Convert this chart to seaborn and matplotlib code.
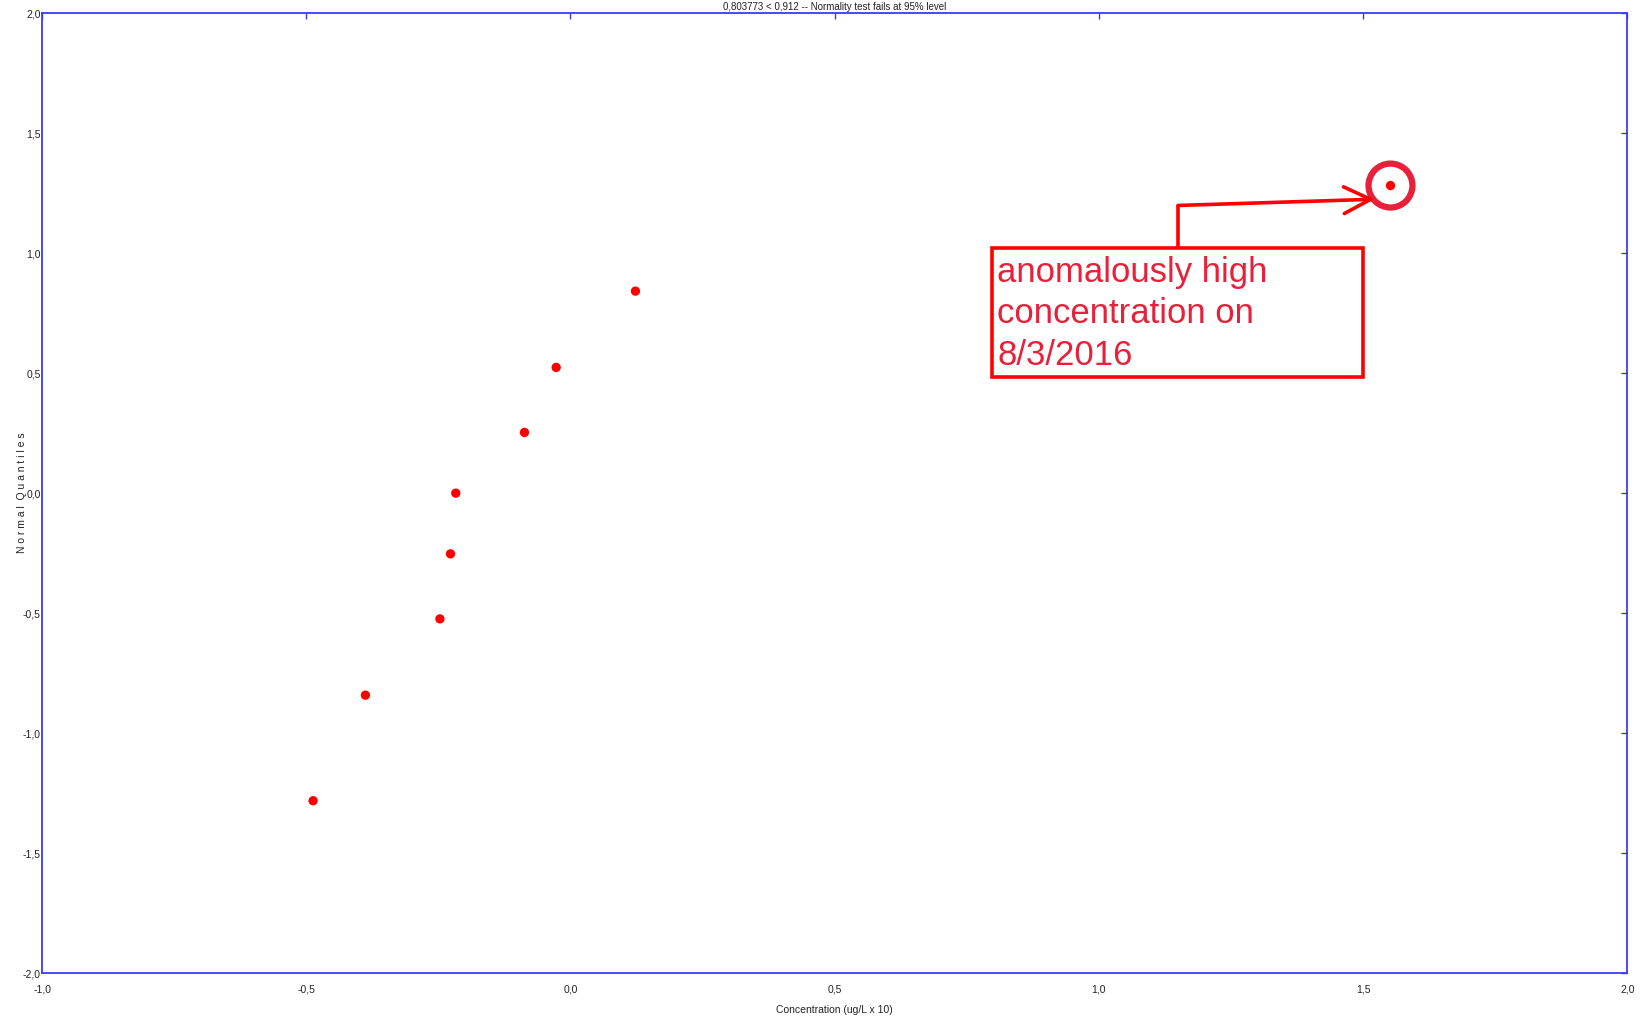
import numpy as np
import pandas as pd
import matplotlib
matplotlib.use("Agg")
import matplotlib.pyplot as plt
import seaborn as sns
from matplotlib.ticker import FuncFormatter
from matplotlib.patches import Rectangle

# data
concentration = [-0.487, -0.388, -0.247, -0.227, -0.217, -0.087, -0.027, 0.123, 1.552]
normal_quantiles = [-1.282, -0.842, -0.524, -0.253, 0.0, 0.253, 0.524, 0.842, 1.282]
x_ticks = [-1.0, -0.5, 0.0, 0.5, 1.0, 1.5, 2.0]
y_ticks = [-2.0, -1.5, -1.0, -0.5, 0.0, 0.5, 1.0, 1.5, 2.0]
outlier_x, outlier_y = concentration[-1], normal_quantiles[-1]

df = pd.DataFrame({"conc": concentration, "q": normal_quantiles})

sns.set_theme(style="white")
plt.rcParams["font.family"] = ["Liberation Sans Narrow", "Liberation Sans", "DejaVu Sans"]

fig = plt.figure(figsize=(16.42, 10.21), dpi=100)
ax = fig.add_axes([0.0256, 0.047, 0.9654, 0.940])

sns.scatterplot(data=df, x="conc", y="q", ax=ax, color="#ff0000",
                s=45, edgecolor="none", legend=False)

ax.set_xlim(-1, 2)
ax.set_ylim(-2, 2)
ax.set_xticks(x_ticks)
ax.set_yticks(y_ticks)
fmt = FuncFormatter(lambda v, p: f"{v:.1f}".replace(".", ","))
ax.xaxis.set_major_formatter(fmt)
ax.yaxis.set_major_formatter(fmt)

blue = "#3a3aff"
for s in ax.spines.values():
    s.set_color(blue)
    s.set_linewidth(1.3)
ax.tick_params(direction="in", length=4, width=1, color=blue,
               top=True, right=True, labelsize=7.5, labelcolor="#222222")
ax.tick_params(axis="x", pad=8)
ax.tick_params(axis="y", pad=1)

ax.set_title("0,803773 < 0,912 -- Normality test fails at 95% level",
             fontsize=7, pad=2, color="#222222")
ax.set_xlabel("Concentration (ug/L x 10)", fontsize=7.5, labelpad=8, color="#222222")
ax.set_ylabel("N o r m a l  Q u a n t i l e s", fontsize=7.5, labelpad=-3, color="#222222")

# annotation: circle around the outlier
ax.scatter([outlier_x], [outlier_y], s=1000, facecolors="none",
           edgecolors="#e8203a", linewidths=4.5, zorder=3)

# annotation box and text
ax.add_patch(Rectangle((0.797, 0.483), 0.703, 0.537, fill=False,
                       edgecolor="#ff0000", linewidth=2.6, zorder=3))
ax.text(0.808, 0.988, "anomalously high\nconcentration on\n8/3/2016",
        fontsize=25, color="#e8203a", va="top", ha="left",
        family=["Liberation Sans", "DejaVu Sans"], linespacing=1.32)

# elbow arrow from box to circle
ax.plot([1.150, 1.150], [1.020, 1.199], color="#ff0000", lw=2.6,
        solid_capstyle="butt")
ax.annotate("", xy=(1.522, 1.225), xytext=(1.150, 1.199),
            arrowprops=dict(arrowstyle="->,head_length=1.6,head_width=0.8",
                            color="#ff0000", lw=2.6, shrinkA=0, shrinkB=0))

fig.savefig("out.png", dpi=100)
